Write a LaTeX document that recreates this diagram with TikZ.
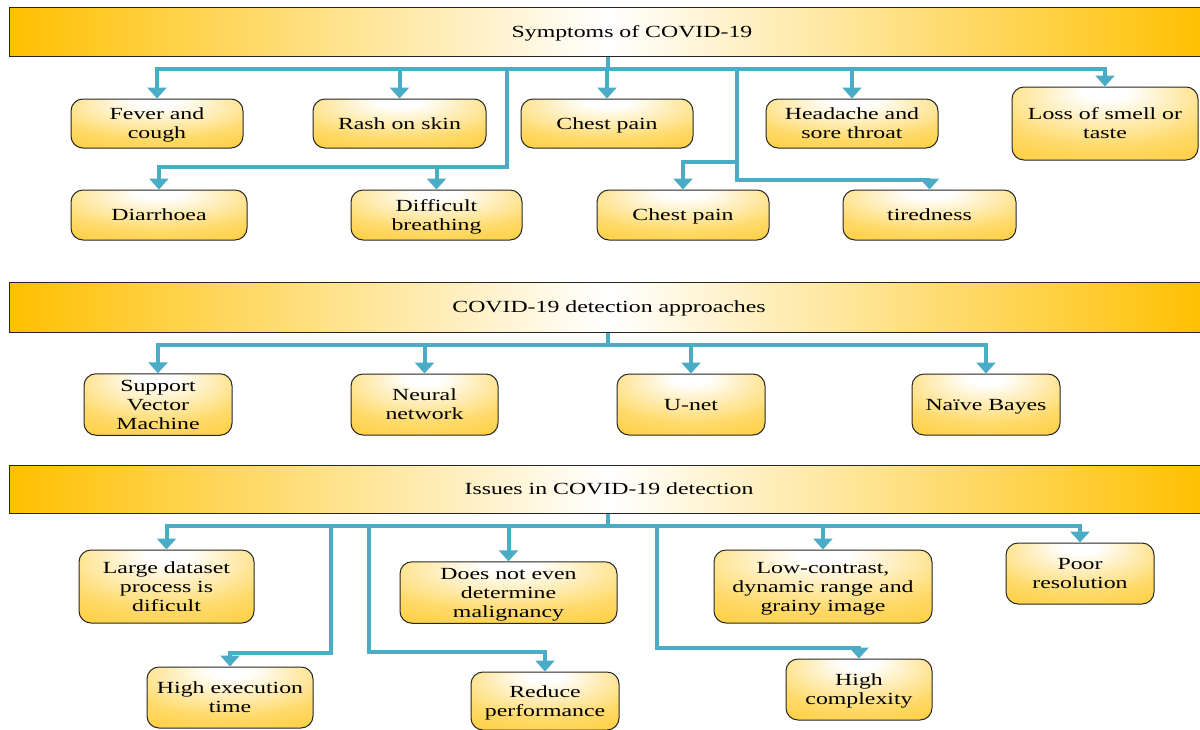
\documentclass[tikz,border=0pt]{standalone}
\usepackage{fontspec}
\setmainfont{Liberation Serif}[FakeStretch=1.4]
\usetikzlibrary{arrows.meta}

\definecolor{barorange}{HTML}{FFC000}
\definecolor{boxgold}{HTML}{FFC20E}
\definecolor{boxmid}{HTML}{FFDA6A}
\definecolor{linkblue}{HTML}{4BACC6}
\definecolor{edgegray}{HTML}{262626}

% soft highlight near the top centre of every box
\pgfdeclareradialshading{boxglow}{\pgfpoint{0bp}{24bp}}{%
  color(0bp)=(white); color(6bp)=(white); color(32bp)=(boxmid);
  color(62bp)=(boxgold); color(100bp)=(boxgold)}

% fixed top and bottom extent of a label, so every label sits alike in its box
\newcommand\topln{\rule{0pt}{16.5pt}}
\newcommand\botln{\rule[-5pt]{0pt}{5pt}}

\tikzset{
  hdr/.style={draw=edgegray, line width=1pt, left color=barorange,
    right color=barorange, middle color=white, minimum width=1198pt,
    inner sep=0pt},
  hdrtext/.style={font=\fontsize{17}{19}\selectfont, text=black,
    inner sep=0pt, text height=16.5pt, text depth=5pt},
  item/.style={draw=edgegray, line width=1pt, rounded corners=12pt,
    shading=boxglow, align=center, text=black,
    font=\fontsize{17}{19}\selectfont, inner sep=1pt},
  sz/.style 2 args={minimum width=#1pt, minimum height=#2pt},
  link/.style={draw=linkblue, line width=4pt},
  linkarrow/.style={link, -{Triangle[width=19pt,length=11pt]}},
}

\begin{document}
\begin{tikzpicture}[x=1pt,y=-1pt]
\clip (0,0) rectangle (1200,729);
\fill[white] (0,0) rectangle (1200,729);

% ---------- section 1: symptoms ----------
\node[hdr, minimum height=49pt] (h1) at (608,31.5) {};
\node[hdrtext] (h1t) at (632,31.5) {Symptoms of COVID-19};

\node[item, sz={172}{49}] (fever)  at (157,123.5)   {\topln Fever and\\cough\botln};
\node[item, sz={173}{49}] (rash)   at (399.5,123.5) {\topln Rash on skin\botln};
\node[item, sz={172}{49}] (chest1) at (607,123.5)   {\topln Chest pain\botln};
\node[item, sz={172}{49}] (head)   at (852,123.5)   {\topln Headache and\\sore throat\botln};
\node[item, sz={186}{73}] (loss)   at (1105,123.5)  {\topln Loss of smell or\\taste\botln};

\node[item, sz={176}{50}] (diar)   at (159,215)   {\topln Diarrhoea\botln};
\node[item, sz={171}{50}] (diff)   at (436.5,215) {\topln Difficult\\breathing\botln};
\node[item, sz={172}{50}] (chest2) at (683,215)   {\topln Chest pain\botln};
\node[item, sz={173}{50}] (tired)  at (929.5,215) {\topln tiredness\botln};

\path (h1.south) ++(0,12) coordinate (t1);
\draw[link] (h1.south) -- (t1);
\draw[linkarrow] (t1) -| (fever.north);
\draw[linkarrow] (t1) -| (rash.north);
\draw[linkarrow] (t1) -| (chest1.north);
\draw[linkarrow] (t1) -| (head.north);
\draw[linkarrow] (t1) -| (loss.north);

\coordinate (jl)  at (507,68);
\coordinate (jlb) at (507,167);
\draw[linkarrow] (jl) -- (jlb) -| (diar.north);
\draw[linkarrow] (jlb) -| (diff.north);

\coordinate (jr)  at (737,68);
\coordinate (jrm) at (737,162);
\coordinate (jrb) at (737,180);
\draw[linkarrow] (jr) -- (jrb) -| (tired.north);
\draw[linkarrow] (jrm) -| (chest2.north);

% ---------- section 2: detection approaches ----------
\node[hdr, minimum height=50pt] (h2) at (608,307) {};
\node[hdrtext] (h2t) at (609,307) {COVID-19 detection approaches};

\node[item, sz={148}{61}] (svm)  at (158,404.5)   {\topln Support\\Vector\\Machine\botln};
\node[item, sz={147}{61}] (nn)   at (424.5,404.5) {\topln Neural\\network\botln};
\node[item, sz={148}{61}] (unet) at (691,404.5)   {\topln U-net\botln};
\node[item, sz={148}{61}] (nb)   at (986,404.5)   {\topln Naïve Bayes\botln};

\path (h2.south) ++(0,12) coordinate (t2);
\draw[link] (h2.south) -- (t2);
\draw[linkarrow] (t2) -| (svm.north);
\draw[linkarrow] (t2) -| (nn.north);
\draw[linkarrow] (t2) -| (unet.north);
\draw[linkarrow] (t2) -| (nb.north);

% ---------- section 3: issues ----------
\node[hdr, minimum height=48pt] (h3) at (608,489) {};
\node[hdrtext] (h3t) at (609,489) {Issues in COVID-19 detection};

\node[item, sz={175}{73}] (large)  at (166.5,586.5) {\topln Large dataset\\process is\\dificult\botln};
\node[item, sz={217}{61}] (dne)    at (508.5,592.5) {\topln Does not even\\determine\\malignancy\botln};
\node[item, sz={218}{73}] (low)    at (823,586.5)   {\topln Low-contrast,\\dynamic range and\\grainy image\botln};
\node[item, sz={148}{61}] (poor)   at (1080,573.5)  {\topln Poor\\resolution\botln};
\node[item, sz={166}{61}] (hexec)  at (230,697.5)   {\topln High execution\\time\botln};
\node[item, sz={148}{58}] (reduce) at (545,701)     {\topln Reduce\\performance\botln};
\node[item, sz={146}{61}] (hcomp)  at (859,689.5)   {\topln High\\complexity\botln};

\path (h3.south) ++(0,12) coordinate (t3);
\draw[link] (h3.south) -- (t3);
\draw[linkarrow] (t3) -| (large.north);
\draw[linkarrow] (t3) -| (dne.north);
\draw[linkarrow] (t3) -| (low.north);
\draw[linkarrow] (t3) -| (poor.north);

\coordinate (ja)  at (331,525);
\coordinate (jab) at (331,653);
\draw[linkarrow] (ja) -- (jab) -| (hexec.north);
\coordinate (jb)  at (369,525);
\coordinate (jbb) at (369,652);
\draw[linkarrow] (jb) -- (jbb) -| (reduce.north);
\coordinate (jc)  at (657,525);
\coordinate (jcb) at (657,648);
\draw[linkarrow] (jc) -- (jcb) -| (hcomp.north);
\end{tikzpicture}
\end{document}
